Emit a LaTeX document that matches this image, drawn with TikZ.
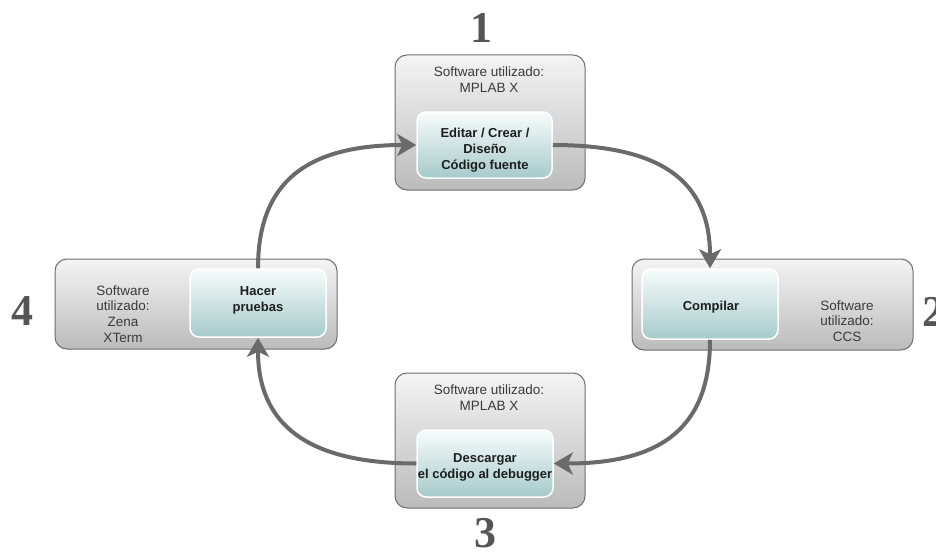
\documentclass[tikz,border=0pt]{standalone}
\usepackage{fontspec}
\setmainfont{Liberation Sans}
\newfontfamily\numfont{Liberation Serif}
\usetikzlibrary{arrows.meta}
\definecolor{outerTop}{HTML}{F4F4F4}
\definecolor{outerBot}{HTML}{BBBBBB}
\definecolor{outerLine}{HTML}{6E6E6E}
\definecolor{innerTop}{HTML}{F8FCFC}
\definecolor{innerBot}{HTML}{A6CACA}
\definecolor{arrowCol}{HTML}{6A6A6A}
\definecolor{numCol}{HTML}{555555}
\definecolor{txtCol}{HTML}{3A3A3A}
\definecolor{boldCol}{HTML}{1E1E1E}
\begin{document}
\begin{tikzpicture}[x=1pt,y=-1pt,
  outerbox/.style 2 args={draw=outerLine, line width=1pt, rounded corners=12pt,
    top color=outerTop, bottom color=outerBot, minimum width=#1, minimum height=#2, inner sep=0pt},
  innerbox/.style 2 args={draw=white, line width=1.5pt, rounded corners=9pt,
    top color=innerTop, bottom color=innerBot, minimum width=#1, minimum height=#2, inner sep=0pt},
  swtext/.style={font=\fontsize{13.5}{15.8}\selectfont, text=txtCol, align=center, inner sep=0pt},
  boldtext/.style={font=\fontsize{13}{15.8}\selectfont\bfseries, text=boldCol, align=center, inner sep=0pt},
  numlabel/.style={font=\fontsize{44}{44}\selectfont\numfont\bfseries, text=numCol, inner sep=0pt, anchor=base},
  conn/.style={draw=arrowCol, line width=4pt, -{Stealth[length=19pt,width=22pt,inset=5pt]}}
]
\useasboundingbox (0,0) rectangle (936,551);
% boxes
\node[outerbox={190}{135}] (o1) at (490,122.5) {};
\node[innerbox={135}{66}] (i1) at (484.5,145) {};
\node[outerbox={281}{91}] (o2) at (772.5,304.5) {};
\node[innerbox={136}{70}] (i2) at (710,304) {};
\node[outerbox={190}{135}] (o3) at (490,440.5) {};
\node[innerbox={136}{67}] (i3) at (485,463.5) {};
\node[outerbox={282}{90}] (o4) at (196,304) {};
\node[innerbox={136}{68}] (i4) at (258,303) {};
% texts
\node[swtext] (t1) at (489,80) {Software utilizado:\\MPLAB X};
\node[boldtext] (b1) at (485,150) {Editar / Crear /\\Diseño\\Código fuente};
\node[swtext] (t2) at (847,321) {Software\\utilizado:\\CCS};
\node[boldtext] (b2) at (711,307.5) {Compilar};
\node[swtext] (t3) at (489,398) {Software utilizado:\\MPLAB X};
\node[boldtext] (b3) at (485,467) {Descargar\\el código al debugger};
\node[swtext] (t4) at (123,314) {Software\\utilizado:\\Zena\\XTerm};
\node[boldtext] (b4) at (258,300) {Hacer\\pruebas};
% numbers
\node[numlabel] (n1) at (481,43) {1};
\node[numlabel] (n2) at (933,326) {2};
\node[numlabel] (n3) at (485,547) {3};
\node[numlabel] (n4) at (22,325) {4};
% connectors
\draw[conn] (i1.east) .. controls +(110,0) and +(0,-86) .. (i2.north);
\draw[conn] (i2.south) .. controls +(0,86) and +(110,0) .. (i3.east);
\draw[conn] (i3.west) .. controls +(-110,0) and +(0,86) .. (i4.south);
\draw[conn] (i4.north) .. controls +(0,-86) and +(-110,0) .. (i1.west);
\end{tikzpicture}
\end{document}
